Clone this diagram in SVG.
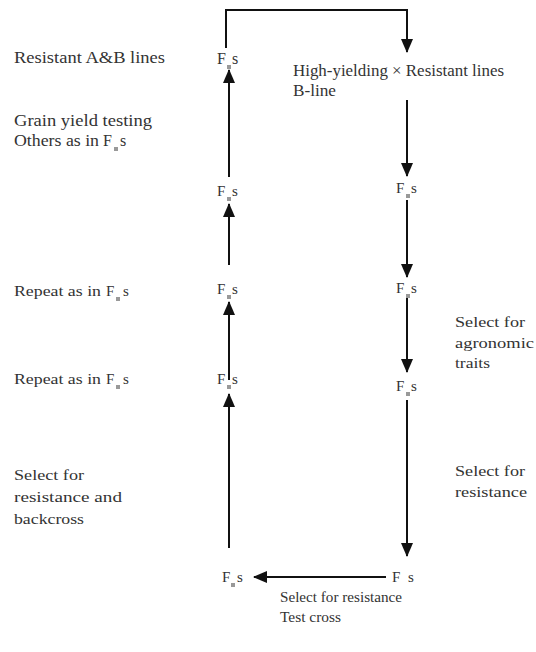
<svg xmlns="http://www.w3.org/2000/svg" width="536" height="652" viewBox="0 0 536 652">
<style>
text{font-family:"Liberation Serif","DejaVu Serif",serif;font-size:15px;fill:#333}
.big{font-size:16px}
.c{stroke:#111;stroke-width:2;fill:none}
.sb{fill:#999}
</style>
<defs>
<marker id="a" markerWidth="14" markerHeight="12" refX="13" refY="6" orient="auto" markerUnits="userSpaceOnUse" viewBox="0 0 14 12">
<path d="M0,0 L14,6 L0,12 z" fill="#111"/>
</marker>
</defs>
<rect width="536" height="652" fill="#fff"/>
<g id="connectors">
<path class="c" d="M226,48 V10 H407 V52" marker-end="url(#a)"/>
<path class="c" d="M229,177 V70" marker-end="url(#a)"/>
<path class="c" d="M229,265 V204" marker-end="url(#a)"/>
<path class="c" d="M229,380 V302" marker-end="url(#a)"/>
<path class="c" d="M229,548 V394" marker-end="url(#a)"/>
<path class="c" d="M386,577 H254" marker-end="url(#a)"/>
<path class="c" d="M407,100 V176" marker-end="url(#a)"/>
<path class="c" d="M407,200 V277" marker-end="url(#a)"/>
<path class="c" d="M407,298 V372" marker-end="url(#a)"/>
<path class="c" d="M407,400 V556" marker-end="url(#a)"/>
</g>
<g id="left-labels">
<text class="big" x="14" y="63" textLength="151" lengthAdjust="spacingAndGlyphs">Resistant A&amp;B lines</text>
<text class="big" x="14" y="126" textLength="138" lengthAdjust="spacingAndGlyphs">Grain yield testing</text>
<g id="others"><text class="big" x="14" y="146" textLength="85" lengthAdjust="spacingAndGlyphs">Others as in</text><text class="big" x="103" y="146">F</text><rect class="sb" x="114" y="147" width="4" height="4"/><text class="big" x="120" y="146">s</text></g>
<g id="rep1"><text x="14" y="296" textLength="87" lengthAdjust="spacingAndGlyphs">Repeat as in</text><text x="106" y="296">F</text><rect class="sb" x="116" y="297" width="4" height="4"/><text x="123" y="296">s</text></g>
<g id="rep2"><text x="14" y="384" textLength="87" lengthAdjust="spacingAndGlyphs">Repeat as in</text><text x="106" y="384">F</text><rect class="sb" x="116" y="385" width="4" height="4"/><text x="123" y="384">s</text></g>
<text x="14" y="480" textLength="70" lengthAdjust="spacingAndGlyphs">Select for</text>
<text x="14" y="502" textLength="108" lengthAdjust="spacingAndGlyphs">resistance and</text>
<text x="14" y="524" textLength="70" lengthAdjust="spacingAndGlyphs">backcross</text>
</g>
<g id="n-top"><text class="big" x="217" y="64">F</text><rect class="sb" x="227" y="65" width="4" height="4"/><text class="big" x="232" y="64">s</text></g>
<g id="n-l2"><text x="217" y="196">F</text><rect class="sb" x="227" y="197" width="4" height="4"/><text x="232" y="196">s</text></g>
<g id="n-l3"><text x="217" y="294">F</text><rect class="sb" x="227" y="295" width="4" height="4"/><text x="232" y="294">s</text></g>
<g id="n-l4"><text x="217" y="384">F</text><rect class="sb" x="227" y="385" width="4" height="4"/><text x="232" y="384">s</text></g>
<g id="n-bl"><text x="222" y="582">F</text><rect class="sb" x="231" y="583" width="4" height="4"/><text x="237" y="582">s</text></g>
<g id="n-br"><text x="392" y="582">F</text><text x="408" y="582">s</text></g>
<g id="n-cross"><text class="big" x="293" y="76" textLength="211" lengthAdjust="spacingAndGlyphs">High-yielding × Resistant lines</text><text class="big" x="293" y="96" textLength="43" lengthAdjust="spacingAndGlyphs">B-line</text></g>
<g id="n-r1"><text x="396" y="193">F</text><rect class="sb" x="406" y="194" width="4" height="4"/><text x="411" y="193">s</text></g>
<g id="n-r2"><text x="396" y="293">F</text><rect class="sb" x="406" y="294" width="4" height="4"/><text x="411" y="293">s</text></g>
<g id="n-r3"><text x="396" y="391">F</text><rect class="sb" x="406" y="392" width="4" height="4"/><text x="411" y="391">s</text></g>
<g id="right-labels">
<text x="455" y="327" textLength="70" lengthAdjust="spacingAndGlyphs">Select for</text>
<text x="455" y="348" textLength="79" lengthAdjust="spacingAndGlyphs">agronomic</text>
<text x="455" y="368" textLength="35" lengthAdjust="spacingAndGlyphs">traits</text>
<text x="455" y="476" textLength="70" lengthAdjust="spacingAndGlyphs">Select for</text>
<text x="455" y="497" textLength="72" lengthAdjust="spacingAndGlyphs">resistance</text>
</g>
<g id="bottom-label"><text x="280" y="602" textLength="122" lengthAdjust="spacingAndGlyphs">Select for resistance</text><text x="280" y="622" textLength="61" lengthAdjust="spacingAndGlyphs">Test cross</text></g>
</svg>
